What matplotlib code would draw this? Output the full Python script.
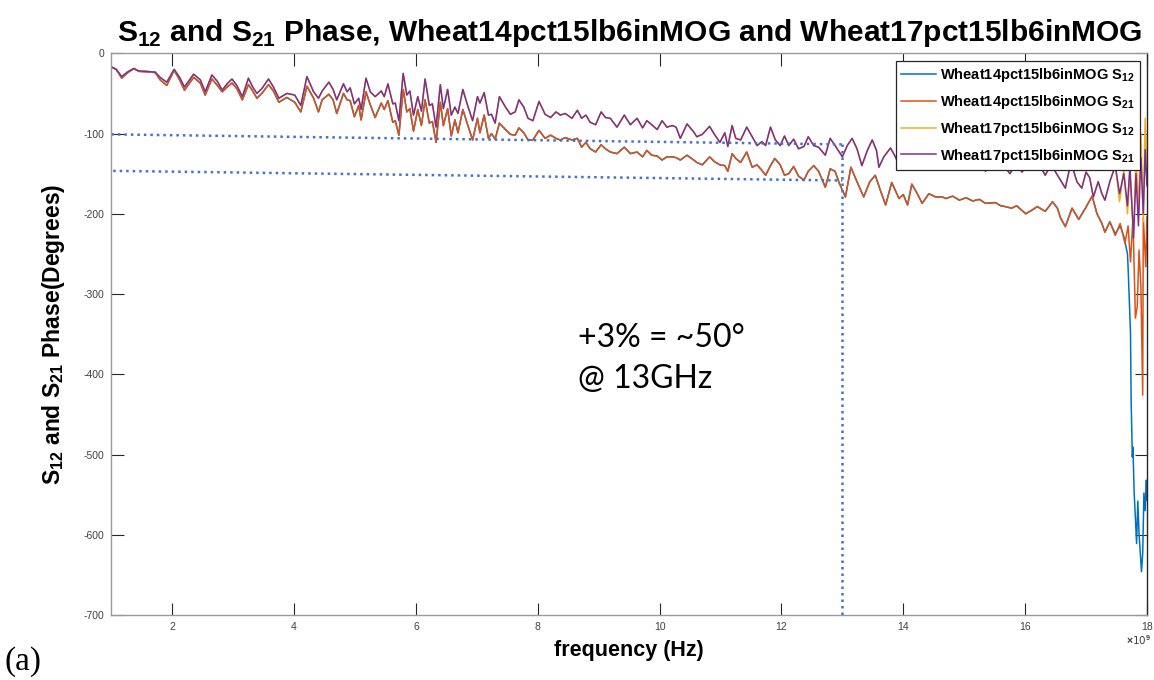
import matplotlib
matplotlib.use("Agg")
import matplotlib.pyplot as plt

# ---------------- data (frequency in GHz, phase in degrees) ----------------
# Wheat 14 % moisture: shared trace for S12 / S21 up to the band edge
freq14_body = [
    1.00, 1.08, 1.17, 1.27, 1.37, 1.45, 1.58, 1.72, 1.80, 1.91, 2.03, 2.12, 2.20, 2.35, 2.46,
    2.54, 2.65, 2.74, 2.82, 2.90, 2.98, 3.06, 3.15, 3.25, 3.32, 3.39, 3.47, 3.58, 3.66, 3.75,
    3.88, 4.01, 4.11, 4.21, 4.32, 4.40, 4.46, 4.57, 4.64, 4.70, 4.81, 4.87, 4.92, 4.99, 5.06,
    5.10, 5.18, 5.25, 5.33, 5.43, 5.48, 5.54, 5.62, 5.66, 5.72, 5.79, 5.85, 5.90, 5.96, 6.03,
    6.09, 6.15, 6.22, 6.27, 6.33, 6.40, 6.45, 6.52, 6.58, 6.64, 6.69, 6.77, 6.84, 6.93, 7.01,
    7.05, 7.12, 7.19, 7.24, 7.30, 7.37, 7.47, 7.55, 7.63, 7.69, 7.77, 7.84, 7.92, 8.02, 8.12,
    8.21, 8.30, 8.37, 8.45, 8.56, 8.65, 8.72, 8.79, 8.86, 8.95, 9.04, 9.11, 9.19, 9.30, 9.42,
    9.52, 9.63, 9.72, 9.79, 9.87, 9.96, 10.04, 10.12, 10.21, 10.27, 10.34, 10.45, 10.56, 10.61,
    10.70, 10.75, 10.82, 10.90, 10.99, 11.07, 11.12, 11.19, 11.25, 11.33, 11.43, 11.52, 11.60,
    11.68, 11.74, 11.82, 11.89, 11.98, 12.05, 12.12, 12.20, 12.28, 12.37, 12.44, 12.53, 12.61,
    12.72, 12.80, 12.88, 12.95, 13.05, 13.14, 13.24, 13.35, 13.45, 13.54, 13.62, 13.71, 13.81,
    13.93, 14.00, 14.07, 14.14, 14.23, 14.31, 14.42, 14.53, 14.64, 14.70, 14.81, 14.92, 15.03,
    15.14, 15.25, 15.35, 15.51, 15.60, 15.67, 15.78, 15.86, 16.01, 16.10, 16.20, 16.33, 16.45,
    16.53, 16.58, 16.66, 16.77, 16.88, 16.99, 17.10, 17.18, 17.26, 17.31, 17.39,
]
phase14_body = [
    -17, -20, -31, -24, -19, -22.5, -23, -24, -33, -40, -21, -33, -46, -30, -37,
    -52, -32, -40, -48, -42, -37, -44, -58, -39, -47, -56, -50, -39, -47, -61,
    -55, -61, -73, -41, -56, -73, -58, -51, -58, -75, -50, -58, -59, -79, -65,
    -83, -48, -64, -80, -62, -70, -59, -86, -84, -102, -45, -73, -69, -97, -70,
    -90, -58, -87, -85, -111, -61, -90, -69, -103, -83, -99, -70, -87, -108, -81,
    -99, -77, -106, -100, -107, -87, -95, -101, -102, -93, -99, -108, -108, -96, -106,
    -102, -106, -108, -105, -108, -106, -117, -111, -119, -123, -114, -119, -123, -125, -117,
    -125, -123, -129, -121, -127, -128, -133, -129, -129, -130, -133, -127, -133, -136,
    -139, -135, -129, -135, -139, -140, -147, -125, -131, -136, -123, -142, -139,
    -146, -152, -140, -131, -139, -152, -150, -141, -153, -158, -147, -140, -147,
    -167, -144, -147, -162, -179, -142, -160, -179, -160, -152, -170, -189, -161,
    -181, -176, -189, -163, -175, -187, -175, -179, -179, -181, -178, -183, -180,
    -184, -182, -187, -186, -190, -191, -193, -190, -200, -196, -191, -197, -185,
    -193, -205, -216, -193, -207, -193, -178, -200, -212, -223, -210,
]
freq14_s12_tail = [17.48, 17.56, 17.62, 17.68, 17.69, 17.73, 17.74, 17.76, 17.77, 17.79,
                   17.83, 17.85, 17.87, 17.91, 17.93, 17.95, 17.97, 17.99, 18.00]
s12_14_tail = [-225, -215, -228, -250, -266, -349, -432, -503, -491, -548,
               -611, -558, -598, -646, -623, -548, -570, -532, -557]
freq14_s21_tail = [17.48, 17.56, 17.64, 17.69, 17.73, 17.77, 17.81, 17.84, 17.87, 17.90,
                   17.93, 17.94, 17.98, 18.00]
s21_14_tail = [-227, -212, -237, -215, -260, -205, -330, -316, -245, -290,
               -426, -204, -266, -204]

# Wheat 17 % moisture: shared trace for S12 / S21 up to the band edge
freq17_body = [
    1.00, 1.08, 1.17, 1.27, 1.37, 1.45, 1.58, 1.72, 1.80, 1.91, 2.03, 2.12, 2.20, 2.35, 2.46,
    2.54, 2.65, 2.74, 2.82, 2.90, 2.98, 3.06, 3.15, 3.25, 3.32, 3.39, 3.47, 3.58, 3.66, 3.75,
    3.88, 4.01, 4.11, 4.21, 4.32, 4.40, 4.46, 4.57, 4.64, 4.70, 4.81, 4.87, 4.92, 4.99, 5.06,
    5.10, 5.18, 5.25, 5.33, 5.43, 5.48, 5.54, 5.62, 5.66, 5.72, 5.79, 5.85, 5.90, 5.96, 6.03,
    6.09, 6.15, 6.22, 6.27, 6.33, 6.40, 6.45, 6.52, 6.58, 6.64, 6.69, 6.77, 6.84, 6.93, 7.01,
    7.05, 7.12, 7.19, 7.24, 7.30, 7.37, 7.47, 7.55, 7.63, 7.69, 7.77, 7.84, 7.92, 8.02, 8.12,
    8.21, 8.30, 8.37, 8.45, 8.56, 8.65, 8.72, 8.79, 8.86, 8.95, 9.04, 9.11, 9.19, 9.30, 9.42,
    9.52, 9.63, 9.72, 9.79, 9.87, 9.96, 10.04, 10.12, 10.21, 10.27, 10.34, 10.45, 10.56, 10.61,
    10.70, 10.75, 10.82, 10.90, 10.99, 11.07, 11.12, 11.19, 11.25, 11.33, 11.43, 11.52, 11.60,
    11.68, 11.74, 11.82, 11.90, 11.98, 12.05, 12.12, 12.20, 12.28, 12.37, 12.44, 12.53, 12.61,
    12.72, 12.80, 12.88, 13.00, 13.08, 13.16, 13.24, 13.32, 13.41, 13.49, 13.56, 13.60, 13.68,
    13.79, 13.87, 13.96, 14.05, 14.12, 14.20, 14.30, 14.38, 14.46, 14.55, 14.64, 14.72, 14.80,
    14.90, 15.00, 15.08, 15.18, 15.27, 15.35, 15.45, 15.55, 15.65, 15.75, 15.85, 15.95, 16.05,
    16.15, 16.25, 16.33, 16.42, 16.50, 16.58, 16.66, 16.72, 16.77, 16.85, 16.93, 17.00, 17.06,
    17.12, 17.20, 17.26, 17.31, 17.39,
]
phase17_body = [
    -17, -20, -29, -23, -19, -22, -22.5, -23.5, -30, -36, -20, -30, -42, -26, -33,
    -48, -27, -35, -46, -38, -32, -40, -54, -31, -42, -50, -44, -32, -42, -56,
    -50, -52, -65, -29, -48, -56, -47, -36, -45, -58, -38, -48, -43, -63, -56,
    -70, -31, -48, -54, -47, -54, -38, -63, -62, -84, -25, -52, -47, -77, -54,
    -72, -32, -65, -63, -92, -39, -69, -45, -77, -67, -75, -45, -63, -84, -54,
    -62, -49, -77, -76, -87, -54, -67, -76, -73, -58, -67, -81, -84, -60, -76,
    -80, -73, -77, -75, -81, -71, -81, -77, -86, -89, -73, -80, -81, -92, -77,
    -89, -81, -93, -84, -89, -95, -84, -92, -90, -92, -106, -88, -98, -104,
    -101, -97, -91, -101, -111, -99, -116, -90, -106, -108, -92, -104, -115,
    -110, -115, -92, -108, -115, -103, -115, -107, -119, -116, -104, -115, -117,
    -127, -106, -115, -129, -115, -106, -119, -140, -121, -108, -121, -142, -129,
    -118, -129, -144, -133, -140, -128, -138, -126, -145, -131, -137, -127, -142,
    -134, -145, -132, -140, -130, -147, -136, -144, -140, -150, -138, -148, -137,
    -145, -141, -152, -139, -148, -158, -168, -147, -140, -160, -168, -148, -155,
    -179, -160, -175, -183, -160,
]
freq17_s12_tail = [17.48, 17.55, 17.62, 17.68, 17.72, 17.78, 17.82, 17.86, 17.90, 17.94,
                   17.97, 18.00]
s12_17_tail = [-140, -185, -145, -200, -150, -225, -130, -190, -100, -210, -81, -150]
freq17_s21_tail = [17.48, 17.55, 17.62, 17.68, 17.72, 17.78, 17.82, 17.86, 17.90, 17.94,
                   17.97, 18.00]
s21_17_tail = [-140, -175, -150, -190, -140, -230, -150, -215, -130, -200, -120, -165]

series_labels = [
    r"Wheat14pct15lb6inMOG S$_{\mathbf{12}}$",
    r"Wheat14pct15lb6inMOG S$_{\mathbf{21}}$",
    r"Wheat17pct15lb6inMOG S$_{\mathbf{12}}$",
    r"Wheat17pct15lb6inMOG S$_{\mathbf{21}}$",
]
series_colors = ["#0072BD", "#D95319", "#EDB120", "#7E2F8E"]

# dotted guide lines marking the phase offset at 13 GHz
guide_upper_f = [1.0, 13.0]
guide_upper_deg = [-101, -113.5]
guide_lower_f = [1.03, 13.0]
guide_lower_deg = [-146.5, -158.5]
guide_marker_f = 13.0
guide_marker_deg = [-113.5, -700]
note_text = "+3% = ~50°\n@ 13GHz"
note_pos = (8.66, -336)

x_ticks = [2, 4, 6, 8, 10, 12, 14, 16, 18]
y_ticks = [0, -100, -200, -300, -400, -500, -600, -700]

# ---------------- figure ----------------
plt.rcParams["font.family"] = ["Liberation Sans", "DejaVu Sans"]
plt.rcParams["mathtext.fontset"] = "custom"
plt.rcParams["mathtext.rm"] = "Liberation Sans:bold"
plt.rcParams["mathtext.bf"] = "Liberation Sans:bold"
plt.rcParams["axes.unicode_minus"] = False

fig = plt.figure(figsize=(11.54, 6.80), dpi=100)
ax = fig.add_axes([0.0965, 0.0956, 0.8974, 0.8260])

curves = [
    (freq14_body + freq14_s12_tail, phase14_body + s12_14_tail),
    (freq14_body + freq14_s21_tail, phase14_body + s21_14_tail),
    (freq17_body + freq17_s12_tail, phase17_body + s12_17_tail),
    (freq17_body + freq17_s21_tail, phase17_body + s21_17_tail),
]
for (f, p), c, lab in zip(curves, series_colors, series_labels):
    ax.plot(f, p, color=c, lw=1.1, label=lab)

dot_style = dict(color="#4472C4", lw=1.8, linestyle=(0, (1, 1.6)))
ax.plot(guide_upper_f, guide_upper_deg, **dot_style)
ax.plot(guide_lower_f, guide_lower_deg, **dot_style)
ax.plot([guide_marker_f, guide_marker_f], guide_marker_deg, **dot_style)

ax.text(note_pos[0], note_pos[1], note_text, fontsize=23, family=["Lato", "DejaVu Sans"],
        ha="left", va="top", linespacing=1.45, color="black")

ax.set_xlim(1, 18)
ax.set_ylim(-700, 0)
ax.set_xticks(x_ticks)
ax.set_yticks(y_ticks)
ax.tick_params(direction="in", length=9, width=0.8, top=True, right=True,
               labelsize=7.5, labelcolor="#404040", color="#262626", pad=5)
for side in ["left", "bottom", "top"]:
    ax.spines[side].set_color("#9a9a9a")
    ax.spines[side].set_linewidth(1.0)
ax.spines["right"].set_color("#262626")
ax.spines["right"].set_linewidth(1.0)

ax.set_title(r"S$_{12}$ and S$_{21}$ Phase, Wheat14pct15lb6inMOG and Wheat17pct15lb6inMOG",
             fontsize=21.5, fontweight="bold", pad=9)
ax.set_xlabel("frequency (Hz)", fontsize=15.5, fontweight="bold", labelpad=6)
ax.set_ylabel(r"S$_{12}$ and S$_{21}$ Phase(Degrees)", fontsize=16.5, fontweight="bold",
              labelpad=12)

fig.text(0.9755, 0.058, r"$\times$10$^9$", fontsize=7.5, color="#404040", ha="left", va="center",
         family=["DejaVu Sans"])
fig.text(0.004, 0.005, "(a)", fontsize=24, family=["Liberation Serif", "DejaVu Serif"],
         ha="left", va="bottom")

leg = ax.legend(loc="upper right", bbox_to_anchor=(0.993, 0.986), borderaxespad=0,
                prop={"weight": "bold", "size": 10.5}, frameon=True,
                fancybox=False, framealpha=1, edgecolor="#262626", handlelength=2.4,
                handletextpad=0.3, labelspacing=0.6, borderpad=0.35)
leg.get_frame().set_linewidth(0.9)

fig.savefig("out.png", dpi=100)
